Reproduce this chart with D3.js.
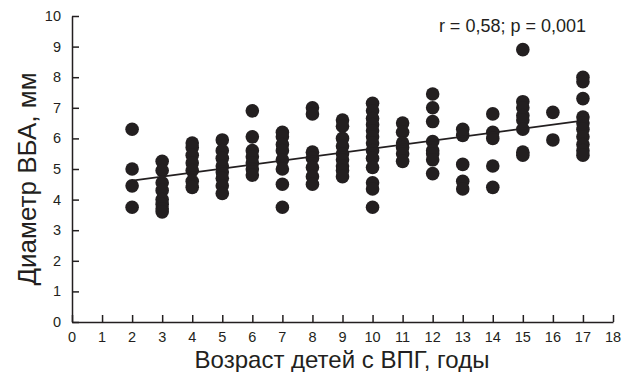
<!DOCTYPE html>
<html>
<head>
<meta charset="utf-8">
<script src="https://cdn.jsdelivr.net/npm/d3@7"></script>
<style>
  body { margin: 0; background: #fff; }
  svg { display: block; font-family: "Liberation Sans", Arial, sans-serif; }
</style>
</head>
<body>
<div id="chart"></div>
<script>
// ages (x) and the measured diameters at each age
const ages = [2, 3, 4, 5, 6, 7, 8, 9, 10, 11, 12, 13, 14, 15, 16, 17];
const diameters = [
  [6.3, 5.0, 4.45, 3.75],
  [5.25, 4.95, 4.55, 4.3, 4.0, 3.85, 3.7, 3.6],
  [5.85, 5.7, 5.45, 5.2, 4.95, 4.6, 4.4],
  [5.95, 5.6, 5.35, 5.1, 4.9, 4.7, 4.45, 4.2],
  [6.9, 6.05, 5.6, 5.4, 5.2, 5.0, 4.8],
  [6.2, 6.05, 5.8, 5.6, 5.3, 5.0, 4.5, 3.75],
  [7.0, 6.8, 5.55, 5.35, 5.05, 4.75, 4.5],
  [6.6, 6.4, 6.0, 5.75, 5.5, 5.3, 5.1, 4.95, 4.75],
  [7.15, 6.9, 6.65, 6.45, 6.25, 6.05, 5.85, 5.6, 5.35, 5.05, 4.55, 4.35, 3.75],
  [6.5, 6.2, 5.85, 5.7, 5.5, 5.25],
  [7.45, 7.0, 6.55, 5.9, 5.6, 5.5, 5.3, 4.85],
  [6.3, 6.1, 5.15, 4.6, 4.35],
  [6.8, 6.2, 6.0, 5.1, 4.4],
  [8.9, 7.2, 7.0, 6.75, 6.6, 6.3, 5.55, 5.45],
  [6.85, 5.95],
  [8.0, 7.85, 7.3, 6.7, 6.5, 6.3, 6.05, 5.8, 5.6, 5.45]
];
// regression line end points
const trendX = [2, 17];
const trendY = [4.62, 6.58];

const xTicks = d3.range(0, 19);
const yTicks = d3.range(0, 11);

const width = 630, height = 372;

const x = d3.scaleLinear().domain([0, 18]).range([72, 613]);
const y = d3.scaleLinear().domain([0, 10]).range([322, 16]);

const svg = d3.select("#chart")
  .append("svg")
    .attr("width", width)
    .attr("height", height);

const points = [];
ages.forEach((a, i) => diameters[i].forEach(v => points.push({ age: a, d: v })));

// axes, ticks pointing inward
svg.append("g")
  .attr("transform", `translate(0,${y(0)})`)
  .call(d3.axisTop(x).tickValues(xTicks).tickSize(7).tickSizeOuter(0).tickFormat(""));

svg.append("g")
  .selectAll("text")
  .data(xTicks)
  .join("text")
    .attr("x", d => x(d))
    .attr("y", 342)
    .attr("text-anchor", "middle")
    .attr("font-size", 14.5)
    .attr("fill", "#231f20")
    .text(d => d);

svg.append("g")
  .attr("transform", `translate(${x(0)},0)`)
  .call(d3.axisRight(y).tickValues(yTicks).tickSize(7).tickSizeOuter(0).tickFormat(""));

svg.append("g")
  .selectAll("text")
  .data(yTicks)
  .join("text")
    .attr("x", 61)
    .attr("y", d => y(d))
    .attr("dy", "0.35em")
    .attr("text-anchor", "end")
    .attr("font-size", 14.5)
    .attr("fill", "#231f20")
    .text(d => d);

svg.selectAll(".domain, .tick line")
  .attr("stroke", "#231f20")
  .attr("stroke-width", 1.5);

// points
svg.append("g")
  .selectAll("circle")
  .data(points)
  .join("circle")
    .attr("cx", d => x(d.age))
    .attr("cy", d => y(d.d))
    .attr("r", 6.8)
    .attr("fill", "#231f20");

// regression line
svg.append("line")
  .attr("x1", x(trendX[0]))
  .attr("y1", y(trendY[0]))
  .attr("x2", x(trendX[1]))
  .attr("y2", y(trendY[1]))
  .attr("stroke", "#231f20")
  .attr("stroke-width", 1.6);

svg.append("text")
  .attr("x", 586)
  .attr("y", 31.5)
  .attr("text-anchor", "end")
  .attr("font-size", 18)
  .attr("fill", "#231f20")
  .text("r = 0,58; p = 0,001");

svg.append("text")
  .attr("x", 342)
  .attr("y", 368)
  .attr("text-anchor", "middle")
  .attr("font-size", 24)
  .attr("fill", "#231f20")
  .text("Возраст детей с ВПГ, годы");

svg.append("text")
  .attr("transform", "translate(35.5,179) rotate(-90)")
  .attr("text-anchor", "middle")
  .attr("font-size", 26)
  .attr("fill", "#231f20")
  .text("Диаметр ВБА, мм");
</script>
</body>
</html>
